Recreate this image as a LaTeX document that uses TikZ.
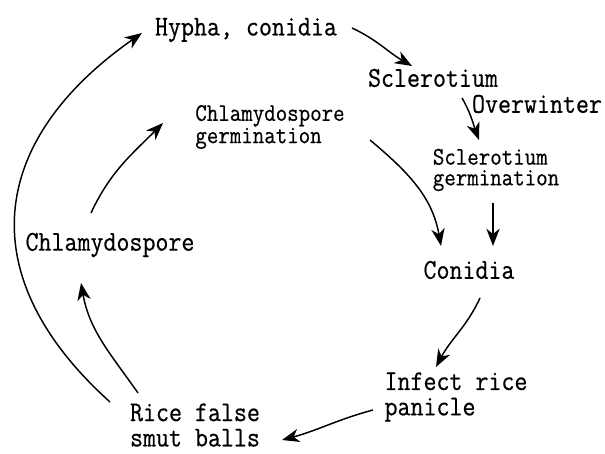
\documentclass[tikz,border=0pt]{standalone}
\usepackage{fontspec}
\usepackage{tikz}
\usetikzlibrary{arrows.meta}
\newfontfamily\cyclefont{Latin Modern Mono}[FakeStretch=0.88, FakeBold=0.5]

\begin{document}
\begin{tikzpicture}[x=0.75pt, y=0.75pt,
    lbl/.style={font=\fontsize{21.5}{19}\selectfont\cyclefont, inner sep=0pt, align=left},
    slbl/.style={font=\fontsize{19}{15.5}\selectfont\cyclefont, inner sep=0pt, align=left},
    flow/.style={line width=1.1pt, -{Stealth[length=13pt, width=10pt, inset=4pt]}}]
        \useasboundingbox (0,0) rectangle (605,453);
        % stages of the cycle
        \node[lbl] (hypha) at (246,423) {Hypha, conidia};
        \node[lbl] (scler) at (433,375) {Sclerotium};
        \node[lbl] (overw) at (537,349) {Overwinter};
        \node[slbl] (cgerm) at (270,326) {Chlamydospore\\germination};
        \node[slbl] (sgerm) at (496,283) {Sclerotium\\germination};
        \node[lbl] (conidia) at (469,183) {Conidia};
        \node[lbl] (chlamy) at (110,208) {Chlamydospore};
        \node[lbl] (infect) at (456,56) {Infect rice\\panicle};
        \node[lbl] (balls) at (195,28) {Rice false\\smut balls};
        % outer loop
        \draw[flow] ([shift={(-85,23)}]balls.center) to[out=138, in=215, looseness=1.3] ([shift={(-104,-3)}]hypha.center);
        % inner loop
        \draw[flow] ([shift={(-57,32)}]balls.center) to[out=125, in=-80] ([shift={(-29,-38)}]chlamy.center);
        \draw[flow] ([shift={(-19,32)}]chlamy.center) to[out=65, in=225] ([shift={(-107,4)}]cgerm.center);
        % right side
        \draw[flow] ([shift={(106,2)}]hypha.center) to[out=-25, in=150] ([shift={(-21,12)}]scler.center);
        \draw[flow] ([shift={(29,-20)}]scler.center) to[out=-60, in=110] ([shift={(-17,30)}]sgerm.center);
        \draw[flow] ([shift={(-3,-33)}]sgerm.center) -- ([shift={(24,24)}]conidia.center);
        \draw[flow] ([shift={(100,-13)}]cgerm.center) to[out=-40, in=100] ([shift={(-28,24)}]conidia.center);
        \draw[flow] ([shift={(11,-28)}]conidia.center) to[out=-115, in=62] ([shift={(-20,30)}]infect.center);
        \draw[flow] ([shift={(-83,-13)}]infect.center) to[out=195, in=15] ([shift={(87,-15)}]balls.center);
\end{tikzpicture}
\end{document}
